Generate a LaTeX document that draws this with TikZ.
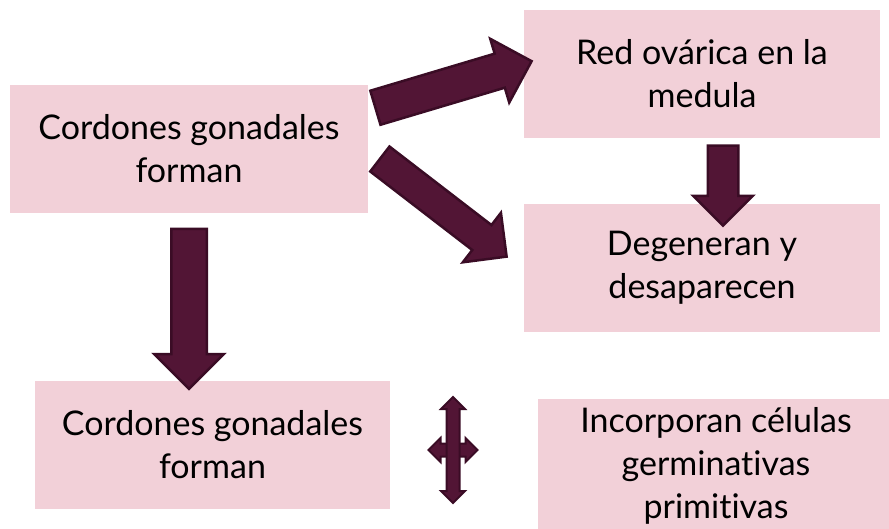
\documentclass[tikz,border=0pt]{standalone}
\usepackage{fontspec}
\setmainfont{Lato}[Ligatures=NoCommon,RawFeature={-liga;-dlig}]
\usetikzlibrary{shapes.arrows}
\definecolor{boxpink}{RGB}{242,208,216}
\definecolor{plum}{RGB}{82,21,53}
\definecolor{plumdark}{RGB}{58,12,37}

\begin{document}
\begin{tikzpicture}[x=1pt,y=-1pt,box/.style={fill=boxpink,minimum width=356pt,minimum height=128pt,align=center,font=\fontsize{34}{43}\selectfont},blk/.style={single arrow,fill=plum,draw=plumdark,line width=2.5pt,inner xsep=0pt,minimum width=0pt,single arrow head indent=0pt},dbl/.style={double arrow,fill=plum,draw=plumdark,line width=2pt,inner xsep=0pt,inner ysep=5.5pt,minimum width=0pt,double arrow head extend=5.5pt}]
\useasboundingbox (0,0) rectangle (889,529);

\node[box,minimum width=358pt] (forman) at (189,149) {Cordones gonadales\\forman};
\node[box] (red) at (702,74) {Red ov\'arica en la\\medula};
\node[box] (degen) at (702,268) {Degeneran y\\desaparecen};
\node[box,minimum width=355pt] (formanB) at (212.5,445) {Cordones gonadales\\forman};
\node[box,minimum height=134pt] (incorp) at (716,466) {Incorporan c\'elulas\\germinativas\\primitivas};

\node[blk,minimum height=163pt,inner ysep=16.5pt,single arrow head extend=15.5pt,rotate=16.6] (toRed) at (445,87) {};
\node[blk,minimum height=160pt,inner ysep=14.5pt,single arrow head extend=15.5pt,rotate=-37.6] (toDegen) at (437,203) {};
\node[blk,minimum height=160pt,inner ysep=16.5pt,single arrow head extend=17pt,rotate=-90] (toFormanB) at (189,300) {};
\node[blk,minimum height=80pt,inner ysep=14pt,single arrow head extend=14.5pt,rotate=-90] (redDegen) at (723,178) {};

\node[dbl,minimum height=49pt] (crossH) at (453,450) {};
\node[dbl,minimum height=106pt,rotate=90] (crossV) at (453,450) {};

\end{tikzpicture}
\end{document}
